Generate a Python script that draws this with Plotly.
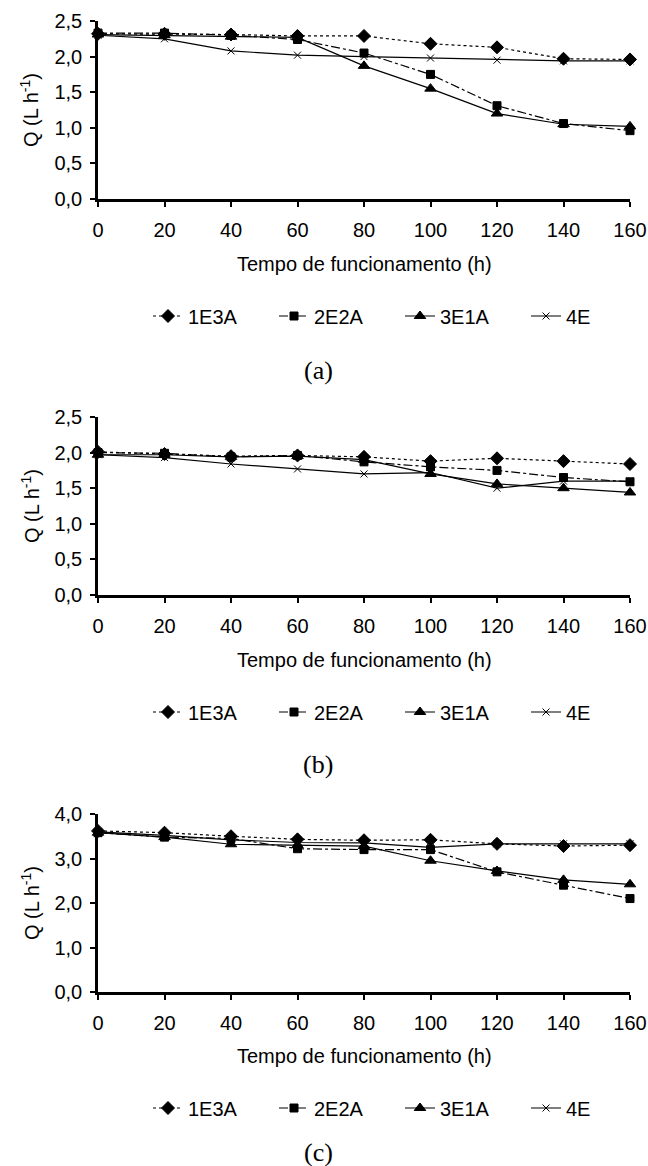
import plotly.graph_objects as go

hours = [0, 20, 40, 60, 80, 100, 120, 140, 160]
series_names = ["1E3A", "2E2A", "3E1A", "4E"]

# Panel (a)
a_1E3A = [2.32, 2.32, 2.31, 2.29, 2.29, 2.18, 2.13, 1.97, 1.96]
a_2E2A = [2.33, 2.33, 2.30, 2.24, 2.05, 1.75, 1.31, 1.06, 0.96]
a_3E1A = [2.31, 2.30, 2.28, 2.27, 1.87, 1.55, 1.20, 1.05, 1.02]
a_4E   = [2.30, 2.25, 2.08, 2.02, 2.00, 1.98, 1.95, 1.94, 1.94]

# Panel (b)
b_1E3A = [2.01, 1.98, 1.95, 1.96, 1.94, 1.88, 1.92, 1.88, 1.84]
b_2E2A = [2.00, 1.99, 1.94, 1.96, 1.87, 1.80, 1.75, 1.65, 1.59]
b_3E1A = [1.97, 1.97, 1.94, 1.95, 1.90, 1.70, 1.56, 1.50, 1.44]
b_4E   = [1.97, 1.93, 1.84, 1.77, 1.70, 1.72, 1.50, 1.60, 1.60]

# Panel (c)
c_1E3A = [3.62, 3.58, 3.50, 3.43, 3.41, 3.42, 3.33, 3.28, 3.30]
c_2E2A = [3.58, 3.48, 3.45, 3.22, 3.20, 3.20, 2.70, 2.40, 2.10]
c_3E1A = [3.58, 3.48, 3.32, 3.30, 3.28, 2.95, 2.72, 2.52, 2.42]
c_4E   = [3.60, 3.52, 3.42, 3.36, 3.35, 3.25, 3.33, 3.33, 3.33]

panels = [
    ([a_1E3A, a_2E2A, a_3E1A, a_4E], 2.5, 0.5),
    ([b_1E3A, b_2E2A, b_3E1A, b_4E], 2.5, 0.5),
    ([c_1E3A, c_2E2A, c_3E1A, c_4E], 4.0, 1.0),
]
captions = ["(a)", "(b)", "(c)"]
x_title = "Tempo de funcionamento (h)"
y_title = "Q (L h<sup>-1</sup>)"

W, H = 648, 1166
FONT = "Liberation Sans, Arial, sans-serif"
SERIF = "Liberation Serif, Times New Roman, serif"
FS = 20

styles = [
    dict(dash="dot", symbol="diamond", size=10),
    dict(dash="dashdot", symbol="square", size=8),
    dict(dash="solid", symbol="triangle-up", size=10),
    dict(dash="solid", symbol="x-thin", size=7),
]

# layout positions in page pixels
plot_tops = [21, 417, 814]
plot_bottoms = [199, 595, 992]
title_ys = [264, 660, 1056]
legend_ys = [316, 712, 1108]
caption_ys = [370, 764, 1152]
x0_px, x1_px = 98, 630

def px(p):
    return p / W

def py(p):
    return 1 - p / H

fig = go.Figure()
layout = dict(
    width=W, height=H,
    margin=dict(l=0, r=0, t=0, b=0, autoexpand=False),
    paper_bgcolor="white", plot_bgcolor="white",
    separators=",.",
    font=dict(family=FONT, size=FS, color="black"),
    showlegend=True,
    annotations=[],
)

for i, (vals, ymax, dtick) in enumerate(panels):
    n = "" if i == 0 else str(i + 1)
    leg = "legend" + n
    for j, name in enumerate(series_names):
        st = styles[j]
        marker = dict(symbol=st["symbol"], size=st["size"], color="black",
                      line=dict(color="black", width=1))
        fig.add_trace(go.Scatter(
            x=hours, y=vals[j], name=name, mode="lines+markers",
            line=dict(color="black", width=1.2, dash=st["dash"]),
            marker=marker, cliponaxis=False,
            xaxis="x" + n, yaxis="y" + n, legend=leg,
        ))
    layout["xaxis" + n] = dict(
        domain=[px(x0_px), px(x1_px)], anchor="y" + n,
        range=[0, 160], tickvals=hours, ticks="outside", ticklen=5,
        tickwidth=2, tickcolor="black", showline=True, linecolor="black",
        linewidth=2.5, showgrid=False, zeroline=False,
        tickfont=dict(size=FS), ticklabelstandoff=6,
    )
    layout["yaxis" + n] = dict(
        domain=[py(plot_bottoms[i]), py(plot_tops[i])], anchor="x" + n,
        range=[0, ymax], dtick=dtick, tickformat=".1f", ticks="outside",
        ticklen=5, tickwidth=2, tickcolor="black", showline=True,
        linecolor="black", linewidth=2.5, showgrid=False, zeroline=False,
        tickfont=dict(size=FS), ticklabelstandoff=4,
    )
    layout[leg] = dict(
        orientation="h", x=px(148), xanchor="left",
        y=py(legend_ys[i]), yanchor="middle",
        font=dict(size=FS), bgcolor="rgba(0,0,0,0)",
        entrywidth=81, entrywidthmode="pixels", tracegroupgap=0,
    )
    # x axis title
    layout["annotations"].append(dict(
        text=x_title, x=px((x0_px + x1_px) / 2), y=py(title_ys[i]),
        xref="paper", yref="paper", showarrow=False,
        xanchor="center", yanchor="middle", font=dict(size=FS),
    ))
    # y axis title
    layout["annotations"].append(dict(
        text=y_title, x=px(30), y=py((plot_tops[i] + plot_bottoms[i]) / 2),
        xref="paper", yref="paper", showarrow=False, textangle=-90,
        xanchor="center", yanchor="middle", font=dict(size=FS),
    ))
    # panel caption
    layout["annotations"].append(dict(
        text=captions[i], x=px(318), y=py(caption_ys[i]), xref="paper",
        yref="paper", showarrow=False, xanchor="center", yanchor="middle",
        font=dict(family=SERIF, size=26),
    ))

fig.update_layout(**layout)
fig.write_html(
    "out.html",
    config={"displayModeBar": False},
    post_script="document.body.style.margin='0';document.body.style.overflow='hidden';",
)
